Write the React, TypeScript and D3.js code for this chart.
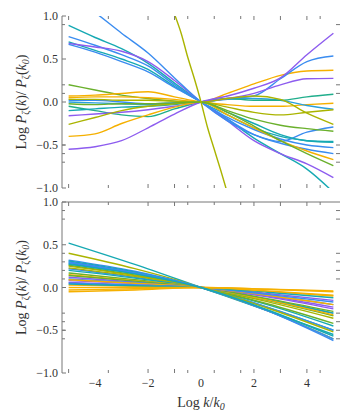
import React from "react";
import * as d3 from "d3";

// palette (Mathematica-like)
const teal = "#16a9b3";
const blue = "#3a8cf0";
const purple = "#8d5cef";
const orange = "#f5b000";
const olive = "#aab400";
const green = "#6ab02c";
const seagreen = "#20ae8c";
const sky = "#2aa0dc";

// top panel: log k sample points
const kTop = [-5, -4, -3, -2, -1, 0, 1, 2, 3, 4, 5];
const topColors = [teal, blue, teal, purple, blue, blue, green, orange, orange, blue, sky, seagreen, teal, purple, olive, orange, purple, olive, green];
const topValues = [
  [0.89, 0.75, 0.62, 0.45, 0.22, 0, -0.2, -0.42, -0.6, -0.78, -1.05],
  [0.76, 0.66, 0.55, 0.42, 0.2, 0, -0.2, -0.38, -0.48, -0.55, -0.6],
  [0.7, 0.6, 0.5, 0.38, 0.18, 0, -0.15, -0.3, -0.4, -0.45, -0.47],
  [0.68, 0.64, 0.59, 0.47, 0.25, 0, -0.22, -0.45, -0.6, -0.72, -0.88],
  [0.67, 0.58, 0.47, 0.35, 0.17, 0, -0.18, -0.32, -0.43, -0.5, -0.53],
  [1.25, 1.04, 0.8, 0.57, 0.28, 0, -0.22, -0.38, -0.46, -0.35, -0.29],
  [0.2, 0.14, 0.08, 0.04, 0.01, 0, -0.1, -0.2, -0.27, -0.31, -0.34],
  [0.07, 0.08, 0.1, 0.12, 0.06, 0, -0.03, -0.05, -0.05, -0.03, -0.015],
  [0.05, 0.06, 0.06, 0.05, 0.03, 0, 0.1, 0.21, 0.31, 0.36, 0.37],
  [0.02, 0.02, 0.0, -0.02, -0.01, 0, 0.04, 0.07, 0.27, 0.47, 0.535],
  [0.0, -0.01, -0.02, -0.03, -0.01, 0, 0.03, 0.04, 0.02, -0.04, -0.085],
  [-0.05, -0.1, -0.15, -0.17, -0.08, 0, 0.04, 0.02, 0.02, 0.06, 0.09],
  [-0.1, -0.08, -0.06, -0.05, -0.03, 0, -0.12, -0.25, -0.38, -0.45, -0.46],
  [-0.16, -0.14, -0.12, -0.09, -0.05, 0, 0.04, 0.1, 0.2, 0.27, 0.275],
  [-0.26, -0.18, -0.1, -0.05, -0.02, 0, -0.06, -0.12, -0.15, -0.12, -0.09],
  [-0.4, -0.37, -0.25, -0.15, -0.06, 0, -0.15, -0.3, -0.45, -0.57, -0.67],
  [-0.55, -0.52, -0.45, -0.3, -0.14, 0, 0.07, 0.16, 0.28, 0.55, 0.8],
  [0.03, 0.03, 0.02, 0.02, 0.01, 0, 0.04, 0.07, 0.03, -0.13, -0.26],
  [-0.02, -0.03, -0.02, -0.02, -0.01, 0, -0.12, -0.28, -0.45, -0.6, -0.74],
];

// the steep one
const kSteep = [-1.0, -0.75, -0.5, -0.25, 0, 0.25, 0.5, 0.75, 1.0];
const steepValues = [1.02, 0.8, 0.52, 0.27, 0, -0.3, -0.55, -0.8, -1.06];

// bottom panel
const kBottom = [-5, -2.5, 0, 2.5, 5];
const bottomColors = [teal, olive, blue, teal, blue, teal, green, olive, blue, green, teal, orange, purple, green, blue, purple, orange, purple, blue, orange, teal, orange, orange, orange, olive, blue, teal];
const bottomValues = [
  [0.52, 0.27, 0, -0.27, -0.55],
  [0.4, 0.22, 0, -0.27, -0.6],
  [0.32, 0.19, 0, -0.27, -0.62],
  [0.31, 0.18, 0, -0.23, -0.5],
  [0.3, 0.17, 0, -0.23, -0.5],
  [0.28, 0.16, 0, -0.2, -0.45],
  [0.26, 0.145, 0, -0.19, -0.42],
  [0.25, 0.14, 0, -0.165, -0.36],
  [0.22, 0.12, 0, -0.14, -0.3],
  [0.17, 0.09, 0, -0.15, -0.33],
  [0.2, 0.11, 0, -0.14, -0.3],
  [0.15, 0.08, 0, -0.145, -0.32],
  [0.12, 0.065, 0, -0.11, -0.25],
  [0.14, 0.075, 0, -0.13, -0.28],
  [0.1, 0.055, 0, -0.09, -0.2],
  [0.08, 0.045, 0, -0.1, -0.23],
  [0.09, 0.05, 0, -0.09, -0.2],
  [0.06, 0.03, 0, -0.07, -0.15],
  [0.05, 0.03, 0, -0.08, -0.17],
  [0.03, 0.015, 0, -0.045, -0.1],
  [0.04, 0.02, 0, -0.055, -0.12],
  [0.0, 0.0, 0, -0.02, -0.05],
  [-0.03, -0.015, 0, -0.02, -0.04],
  [-0.05, -0.03, 0, -0.04, -0.09],
  [0.23, 0.13, 0, -0.24, -0.52],
  [0.29, 0.17, 0, -0.27, -0.6],
  [0.27, 0.16, 0, -0.26, -0.57],
];

// ticks
const xLabels = [-4, -2, 0, 2, 4];
const xTicks = [-5, -3.5, -2, -1, -0.5, 0.5, 1.5, 2, 3, 4, 4.5];
const yLabels = [1.0, 0.5, 0.0, -0.5, -1.0];
const topSideTicks = [0.9, 0.2, 0.1, -0.5, -0.6, -0.7];
const bottomSideTicks = [0.9, 0.8, 0.4, 0.3, 0.2, 0.1, -0.3, -0.4, -0.5, -0.6];

const font = "'Liberation Serif', 'DejaVu Serif', serif";
const axisColor = "#777";
const textColor = "#333";

const x = d3.scaleLinear().domain([-5.25, 5.25]).range([62, 340]);
const yTop = d3.scaleLinear().domain([-1, 1]).range([188, 16]);
const yBot = d3.scaleLinear().domain([-1, 1]).range([373, 202]);

const fmt = (v: number) => d3.format(".1f")(v).replace("-", "\u2212");

function Panel({ y, id, sideTicks, topLine, children }: any) {
  const [y0, y1] = [y(1), y(-1)];
  return (
    <g>
      <defs>
        <clipPath id={id}>
          <rect x={62} y={y0} width={278} height={y1 - y0} />
        </clipPath>
      </defs>
      <g clipPath={`url(#${id})`}>{children}</g>
      {/* left axis */}
      <line x1={62} x2={62} y1={y0} y2={y1} stroke={axisColor} strokeWidth={1} />
      {topLine && <line x1={62} x2={340} y1={y0} y2={y0} stroke={axisColor} strokeWidth={1} />}
      {yLabels.map((v) => (
        <g key={v}>
          <line x1={62} x2={66} y1={y(v)} y2={y(v)} stroke={axisColor} />
          <text x={58} y={y(v) + 4} textAnchor="end" fontSize={12} fontFamily={font} fill={textColor}>
            {fmt(v)}
          </text>
        </g>
      ))}
      {sideTicks.map((v: number) => (
        <g key={"s" + v}>
          <line x1={62} x2={65} y1={y(v)} y2={y(v)} stroke={axisColor} />
          <line x1={336} x2={340} y1={y(v)} y2={y(v)} stroke={axisColor} />
        </g>
      ))}
      {xTicks.map((v) => (
        <g key={"x" + v}>
          <line x1={x(v)} x2={x(v)} y1={y0} y2={y0 + (Number.isInteger(v) ? 4 : 3)} stroke={axisColor} />
          <line x1={x(v)} x2={x(v)} y1={y1} y2={y1 - (Number.isInteger(v) ? 4 : 3)} stroke={axisColor} />
        </g>
      ))}
    </g>
  );
}

export default function App() {
  const lineTop = (ks: number[]) =>
    d3.line<number>().x((_, i) => x(ks[i])).y((d) => yTop(d)).curve(d3.curveMonotoneX);
  const lineBot = d3
    .line<number>()
    .x((_, i) => x(kBottom[i]))
    .y((d) => yBot(d))
    .curve(d3.curveMonotoneX);

  return (
    <svg width={357} height={417} style={{ position: "absolute", left: 0, top: 0, background: "#fff" }}>
      <Panel y={yTop} id="clipTop" sideTicks={topSideTicks} topLine={false}>
        {topValues.map((vals, i) => (
          <path key={i} d={lineTop(kTop)(vals) || ""} fill="none" stroke={topColors[i]} strokeWidth={1.4} />
        ))}
        <path d={lineTop(kSteep)(steepValues) || ""} fill="none" stroke={olive} strokeWidth={1.4} />
      </Panel>
      <Panel y={yBot} id="clipBot" sideTicks={bottomSideTicks} topLine={true}>
        {bottomValues.map((vals, i) => (
          <path key={i} d={lineBot(vals) || ""} fill="none" stroke={bottomColors[i]} strokeWidth={1.4} />
        ))}
      </Panel>

      {xLabels.map((v) => (
        <text key={v} x={x(v)} y={387} textAnchor="middle" fontSize={12} fontFamily={font} fill={textColor}>
          {v < 0 ? "\u2212" + Math.abs(v) : v}
        </text>
      ))}

      <text x={201} y={407} textAnchor="middle" fontSize={14} fontFamily={font} fill={textColor}>
        Log <tspan fontStyle="italic">k</tspan>/<tspan fontStyle="italic">k</tspan>
        <tspan fontSize={10} dy={3} fontStyle="italic">0</tspan>
      </text>

      {[yTop(0), yBot(0)].map((cy, i) => (
        <text
          key={i}
          transform={`translate(26, ${cy}) rotate(-90)`}
          textAnchor="middle"
          fontSize={14}
          fontFamily={font}
          fill={textColor}
        >
          Log <tspan fontStyle="italic">P</tspan>
          <tspan fontSize={10} dy={3}>ζ</tspan>
          <tspan dy={-3}>(</tspan>
          <tspan fontStyle="italic">k</tspan>)/ <tspan fontStyle="italic">P</tspan>
          <tspan fontSize={10} dy={3}>ζ</tspan>
          <tspan dy={-3}>(</tspan>
          <tspan fontStyle="italic">k</tspan>
          <tspan fontSize={10} dy={3} fontStyle="italic">0</tspan>
          <tspan dy={-3}>)</tspan>
        </text>
      ))}
    </svg>
  );
}
